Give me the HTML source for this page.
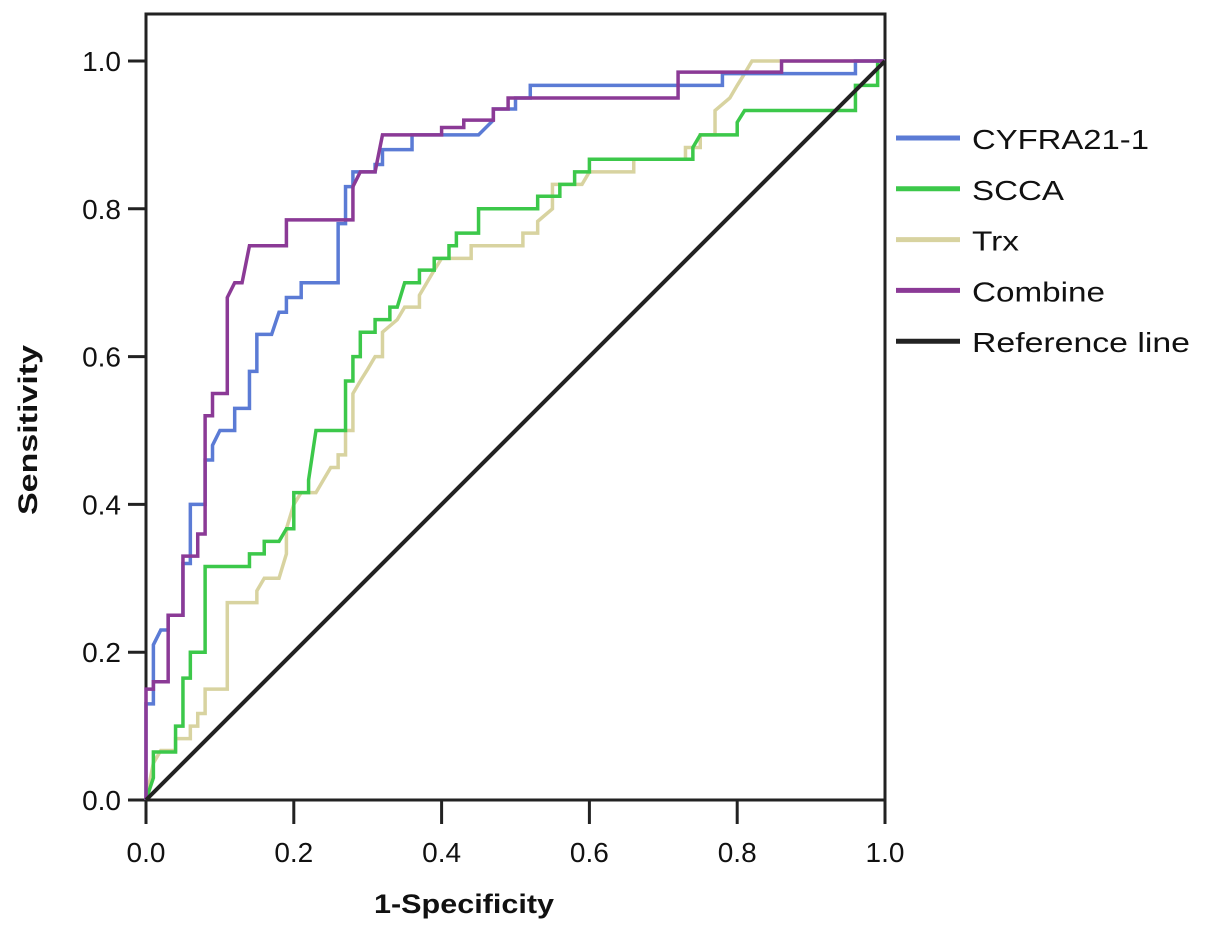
<!DOCTYPE html>
<html><head><meta charset="utf-8"><style>
body{margin:0;background:#fff;}
svg text{font-family:"Liberation Sans",sans-serif;fill:#111;}
</style></head><body>
<svg id="chart" width="1205" height="933">
<rect x="146" y="14" width="739" height="786" fill="none" stroke="#222" stroke-width="3"/>
<g id="axes"></g>
<g id="series"></g>
<text x="464" y="913" font-size="27" font-weight="bold" text-anchor="middle" textLength="180" lengthAdjust="spacingAndGlyphs">1-Specificity</text>
<text transform="translate(37,430) rotate(-90)" font-size="27" font-weight="bold" text-anchor="middle" textLength="170" lengthAdjust="spacingAndGlyphs">Sensitivity</text>
<g id="legend"></g>
</svg>
<script>
const ticks=[0,0.2,0.4,0.6,0.8,1.0];
const tickLabels=["0.0","0.2","0.4","0.6","0.8","1.0"];
const seriesNames=["CYFRA21-1","SCCA","Trx","Combine","Reference line"];
const seriesColors=["#5b7bd5","#3cc84a","#d8d3a0","#8b3a96","#222"];
const cyfra=[[0,0],[0,0.13],[0.01,0.13],[0.01,0.21],[0.02,0.23],[0.03,0.23],[0.03,0.25],[0.05,0.25],[0.05,0.32],[0.06,0.32],[0.06,0.40],[0.08,0.40],[0.08,0.46],[0.09,0.46],[0.09,0.48],[0.10,0.50],[0.12,0.50],[0.12,0.53],[0.14,0.53],[0.14,0.58],[0.15,0.58],[0.15,0.63],[0.17,0.63],[0.18,0.66],[0.19,0.66],[0.19,0.68],[0.21,0.68],[0.21,0.70],[0.26,0.70],[0.26,0.78],[0.27,0.78],[0.27,0.83],[0.28,0.83],[0.28,0.85],[0.31,0.85],[0.31,0.86],[0.32,0.86],[0.32,0.88],[0.36,0.88],[0.36,0.90],[0.45,0.90],[0.47,0.92],[0.47,0.935],[0.50,0.935],[0.50,0.95],[0.52,0.95],[0.52,0.967],[0.78,0.967],[0.78,0.983],[0.96,0.983],[0.96,1],[1,1]];
const scca=[[0,0],[0.01,0.03],[0.01,0.065],[0.04,0.065],[0.04,0.10],[0.05,0.10],[0.05,0.165],[0.06,0.165],[0.06,0.2],[0.08,0.2],[0.08,0.316],[0.14,0.316],[0.14,0.333],[0.16,0.333],[0.16,0.35],[0.18,0.35],[0.19,0.367],[0.20,0.367],[0.20,0.416],[0.22,0.416],[0.22,0.433],[0.23,0.5],[0.27,0.5],[0.27,0.567],[0.28,0.567],[0.28,0.6],[0.29,0.6],[0.29,0.633],[0.31,0.633],[0.31,0.65],[0.33,0.65],[0.33,0.667],[0.34,0.667],[0.35,0.7],[0.37,0.7],[0.37,0.717],[0.39,0.717],[0.39,0.733],[0.41,0.733],[0.41,0.75],[0.42,0.75],[0.42,0.767],[0.45,0.767],[0.45,0.8],[0.53,0.8],[0.53,0.817],[0.56,0.817],[0.56,0.833],[0.58,0.833],[0.58,0.85],[0.60,0.85],[0.60,0.867],[0.74,0.867],[0.74,0.883],[0.75,0.9],[0.80,0.9],[0.80,0.917],[0.81,0.933],[0.96,0.933],[0.96,0.967],[0.99,0.967],[0.99,1],[1,1]];
const trx=[[0,0],[0.01,0.05],[0.02,0.067],[0.04,0.067],[0.04,0.083],[0.06,0.083],[0.06,0.1],[0.07,0.1],[0.07,0.117],[0.08,0.117],[0.08,0.15],[0.11,0.15],[0.11,0.267],[0.15,0.267],[0.15,0.283],[0.16,0.3],[0.18,0.3],[0.19,0.333],[0.19,0.367],[0.20,0.4],[0.21,0.416],[0.23,0.416],[0.24,0.433],[0.25,0.45],[0.26,0.45],[0.26,0.467],[0.27,0.467],[0.27,0.5],[0.28,0.5],[0.28,0.55],[0.29,0.567],[0.30,0.583],[0.31,0.6],[0.32,0.6],[0.32,0.633],[0.34,0.65],[0.35,0.667],[0.37,0.667],[0.37,0.683],[0.38,0.7],[0.39,0.717],[0.40,0.733],[0.44,0.733],[0.44,0.75],[0.51,0.75],[0.51,0.767],[0.53,0.767],[0.53,0.783],[0.55,0.8],[0.55,0.833],[0.59,0.833],[0.60,0.85],[0.66,0.85],[0.66,0.867],[0.73,0.867],[0.73,0.883],[0.75,0.883],[0.75,0.9],[0.77,0.9],[0.77,0.933],[0.79,0.95],[0.80,0.967],[0.81,0.983],[0.82,1],[1,1]];
const combine=[[0,0],[0,0.15],[0.01,0.15],[0.01,0.16],[0.03,0.16],[0.03,0.25],[0.05,0.25],[0.05,0.33],[0.07,0.33],[0.07,0.36],[0.08,0.36],[0.08,0.52],[0.09,0.52],[0.09,0.55],[0.11,0.55],[0.11,0.68],[0.12,0.70],[0.13,0.70],[0.14,0.75],[0.19,0.75],[0.19,0.785],[0.28,0.785],[0.28,0.83],[0.29,0.85],[0.31,0.85],[0.32,0.90],[0.40,0.90],[0.40,0.91],[0.43,0.91],[0.43,0.92],[0.47,0.92],[0.47,0.935],[0.49,0.935],[0.49,0.95],[0.72,0.95],[0.72,0.985],[0.86,0.985],[0.86,1],[1,1]];
const reference=[[0,0],[1,1]];
const NS="http://www.w3.org/2000/svg";
const X=v=>146+v*739, Y=v=>800-v*739;
const axes=document.getElementById('axes');
ticks.forEach((t,i)=>{
  let l=document.createElementNS(NS,'line');
  l.setAttribute('x1',X(t));l.setAttribute('x2',X(t));l.setAttribute('y1',800);l.setAttribute('y2',824);l.setAttribute('stroke','#222');l.setAttribute('stroke-width',3);
  
  
  axes.appendChild(l);
  let tx=document.createElementNS(NS,'text');
  tx.setAttribute('x',X(t));tx.setAttribute('y',862);tx.setAttribute('font-size',28);tx.setAttribute('text-anchor','middle');tx.textContent=tickLabels[i];
  
  
  axes.appendChild(tx);
  let l2=document.createElementNS(NS,'line');
  l2.setAttribute('x1',128);l2.setAttribute('x2',146);l2.setAttribute('y1',Y(t));l2.setAttribute('y2',Y(t));l2.setAttribute('stroke','#222');l2.setAttribute('stroke-width',3);
  
  
  axes.appendChild(l2);
  let ty=document.createElementNS(NS,'text');
  ty.setAttribute('x',121);ty.setAttribute('y',Y(t)+10);ty.setAttribute('font-size',28);ty.setAttribute('text-anchor','end');ty.textContent=tickLabels[i];
  
  
  axes.appendChild(ty);
});
const sg=document.getElementById('series');
const data=[cyfra,scca,trx,combine,reference];
const names=['cyfra-line','scca-line','trx-line','combine-line','reference-line'];
[2,1,0,3,4].forEach(k=>{
  let p=document.createElementNS(NS,'polyline');
  p.setAttribute('points',data[k].map(d=>X(d[0])+','+Y(d[1])).join(' '));
  p.setAttribute('fill','none');p.setAttribute('stroke',seriesColors[k]);p.setAttribute('stroke-width',k==4?4:3.5);
  
  
  sg.appendChild(p);
});
const lg=document.getElementById('legend');
const legendWidths=[177,92,47,133,218];
seriesNames.forEach((n,i)=>{
  let y=138+i*50.8;
  let l=document.createElementNS(NS,'line');
  l.setAttribute('x1',896);l.setAttribute('x2',960);l.setAttribute('y1',y);l.setAttribute('y2',y);l.setAttribute('stroke',seriesColors[i]);l.setAttribute('stroke-width',5);
  
  
  lg.appendChild(l);
  let t=document.createElementNS(NS,'text');
  t.setAttribute('x',972);t.setAttribute('y',y+11);t.setAttribute('font-size',28);
  t.setAttribute('textLength',legendWidths[i]);t.setAttribute('lengthAdjust','spacingAndGlyphs');
  t.textContent=n;
  
  
  lg.appendChild(t);
});
</script>
</body></html>
